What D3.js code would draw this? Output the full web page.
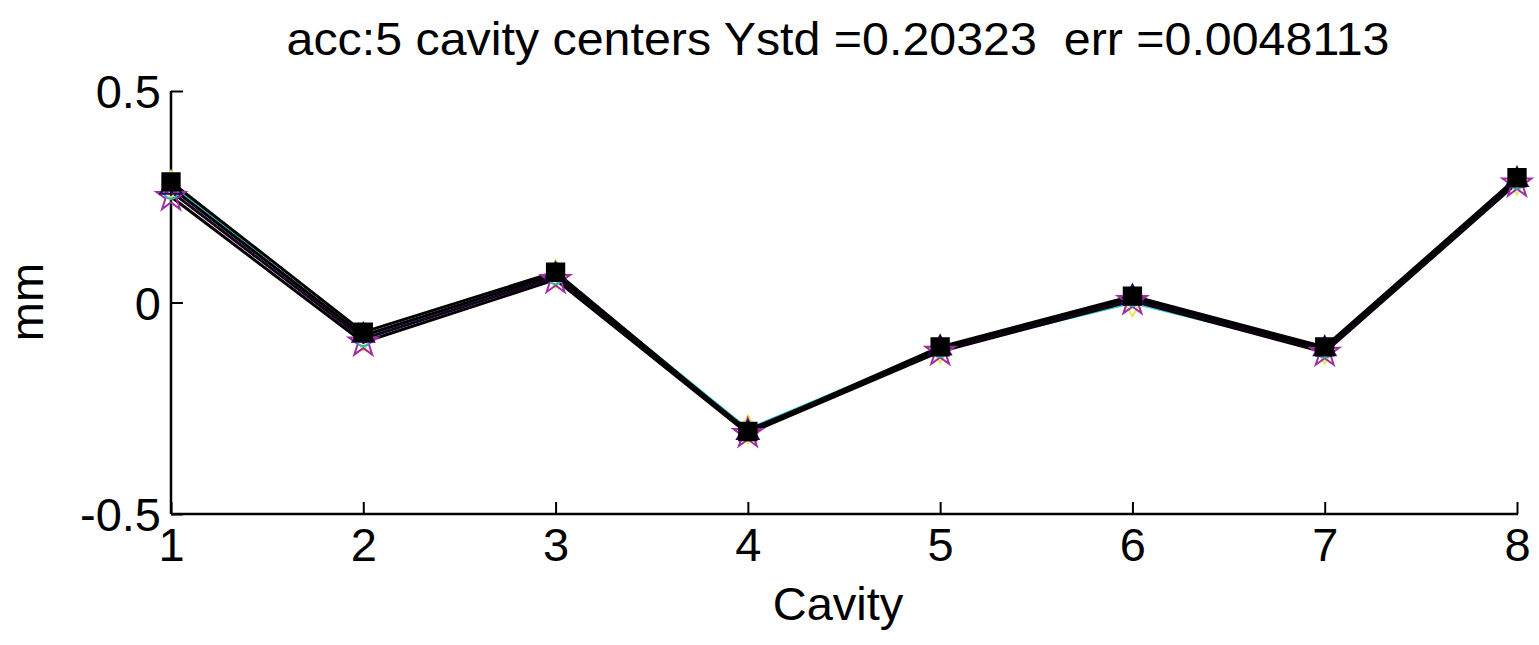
<!DOCTYPE html>
<html>
<head>
<meta charset="utf-8">
<script src="https://cdn.jsdelivr.net/npm/d3@7"></script>
<style>
body { margin: 0; background: #fff; }
text { font-family: "Liberation Sans", Arial, sans-serif; fill: #000; white-space: pre; }
</style>
</head>
<body>
<svg id="chart" width="1539" height="645"></svg>
<script>
// Data
var cavities = [1, 2, 3, 4, 5, 6, 7, 8];
var yTicks = [-0.5, 0, 0.5];
var yTickLabels = ["-0.5", "0", "0.5"];
var titleText = "acc:5 cavity centers Ystd =0.20323  err =0.0048113";
var xLabel = "Cavity";
var yLabel = "mm";

// five overlapping runs
var run1 = [0.285, -0.070, 0.072, -0.305, -0.105, 0.015, -0.105, 0.295];
var run2 = [0.272, -0.078, 0.066, -0.308, -0.108, 0.012, -0.110, 0.290];
var run3 = [0.262, -0.086, 0.060, -0.302, -0.112, 0.008, -0.114, 0.286];
var run4 = [0.250, -0.094, 0.054, -0.310, -0.116, 0.004, -0.118, 0.282];
var run5 = [0.278, -0.082, 0.068, -0.300, -0.110, 0.000, -0.112, 0.288];
var runs = [run5, run4, run3, run2, run1];
var lineColors = ["#30c8d0", "#000000", "#1a0020", "#000000", "#000000"];
var markerColors = ["#e8e860", "#a030a0", "#30b0b0", "#300060", "#000000"];

var svg = d3.select("#chart");
var x = d3.scaleLinear().domain([1, 8]).range([171, 1517]);
var y = d3.scaleLinear().domain([-0.5, 0.5]).range([514, 91]);

// Axes (MATLAB style, ticks inward, no box)
var xAxis = d3.axisBottom(x).tickValues(cavities).tickSize(-12).tickPadding(24).tickFormat(d3.format("d"));
var yAxis = d3.axisLeft(y).tickValues(yTicks).tickSize(-12).tickPadding(6)
    .tickFormat(function(d, i) { return yTickLabels[i]; });

var gx = svg.append("g").attr("transform", "translate(0," + y(-0.5) + ")").call(xAxis);
var gy = svg.append("g").attr("transform", "translate(" + x(1) + ",0)").call(yAxis);
[gx, gy].forEach(function(g) {
    g.select(".domain").attr("stroke", "#000").attr("stroke-width", 2.5);
    g.selectAll(".tick line").attr("stroke", "#000").attr("stroke-width", 2);
    g.selectAll(".tick text").attr("font-size", 47).attr("fill", "#000")
        .attr("font-family", "Liberation Sans, Arial, sans-serif");
});
gx.select(".domain").attr("d", "M" + x(1) + ",0H" + (x(8) + 1));
gy.select(".domain").attr("d", "M0," + y(-0.5) + "V" + y(0.5));
gx.selectAll(".tick text").attr("dy", "0.71em").attr("y", 14);
gy.selectAll(".tick text").attr("x", -10).attr("dy", "0.36em");

// Lines
var line = d3.line()
    .x(function(d, i) { return x(cavities[i]); })
    .y(function(d) { return y(d); });

runs.forEach(function(r, k) {
    svg.append("path")
        .datum(r)
        .attr("fill", "none")
        .attr("stroke", lineColors[k])
        .attr("stroke-width", 3)
        .attr("d", line);
});

// Markers
var symbols = [d3.symbolDiamond, d3.symbolStar, d3.symbolCircle, d3.symbolTriangle, d3.symbolSquare];
var symbolSizes = [220, 260, 160, 200, 300];
runs.forEach(function(r, k) {
    svg.append("g").selectAll("path")
        .data(r)
        .enter()
        .append("path")
        .attr("transform", function(d, i) { return "translate(" + x(cavities[i]) + "," + y(d) + ")"; })
        .attr("d", d3.symbol().type(symbols[k]).size(symbolSizes[k]))
        .attr("fill", k == 4 ? "#000" : "none")
        .attr("stroke", markerColors[k])
        .attr("stroke-width", 2);
});

// Title and labels
svg.append("text")
    .attr("x", 838).attr("y", 55)
    .attr("text-anchor", "middle")
    .attr("font-size", 46)
    .attr("textLength", 1103)
    .attr("lengthAdjust", "spacingAndGlyphs")
    .text(titleText);

svg.append("text")
    .attr("x", 838).attr("y", 620)
    .attr("text-anchor", "middle")
    .attr("font-size", 47)
    .text(xLabel);

svg.append("text")
    .attr("transform", "translate(43,302) rotate(-90)")
    .attr("text-anchor", "middle")
    .attr("font-size", 47)
    .text(yLabel);
</script>
</body>
</html>
